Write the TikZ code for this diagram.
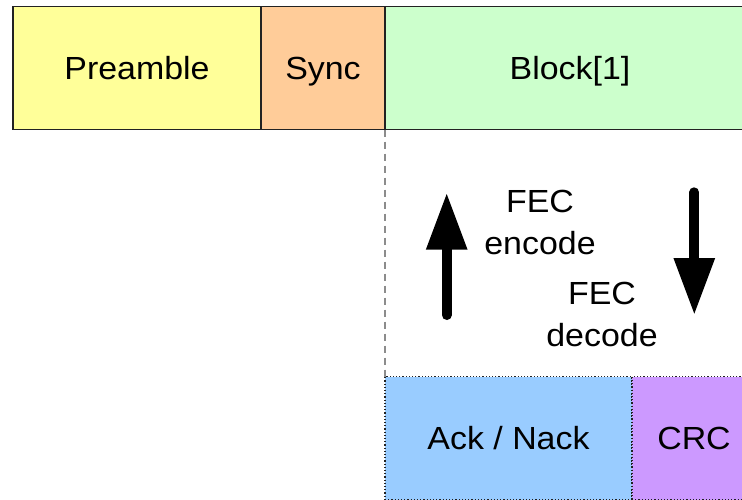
\documentclass[tikz,border=0pt]{standalone}
\usepackage{fontspec}
\setmainfont{Liberation Sans}[FakeStretch=1.06]
\usetikzlibrary{arrows.meta,positioning}
\definecolor{cPre}{HTML}{FFFF99}
\definecolor{cSync}{HTML}{FFCC99}
\definecolor{cBlk}{HTML}{CCFFCC}
\definecolor{cAck}{HTML}{99CCFF}
\definecolor{cCrc}{HTML}{CC99FF}
\definecolor{cInk}{HTML}{222222}
\definecolor{cSep}{HTML}{8C8C8C}
\tikzset{
  field/.style ={draw=cInk,line width=1.2pt,inner sep=0pt,outer sep=0pt,
                 minimum height=123pt,text height=27pt,text depth=4pt,
                 font=\fontsize{32}{38}\selectfont},
  dfield/.style={field,dotted},
  lbl/.style   ={align=center,inner sep=0pt,font=\fontsize{32}{42}\selectfont},
  sep/.style   ={cSep,line width=1.6pt,dash pattern=on 7pt off 5pt},
  fec/.style   ={line width=10pt,line cap=round,
                 -{Triangle[width=38.7pt,length=57pt]}},
}
\begin{document}
\begin{tikzpicture}[x=1pt,y=-1pt,node distance=0pt]
\useasboundingbox (0,0) rectangle (742,499);
\clip (0,0) rectangle (742,499);
% header fields
\node[field,fill=cPre,minimum width=248pt,anchor=north west] (pre) at (13,6.7) {Preamble};
\node[field,fill=cSync,minimum width=124pt,right=of pre] (sync) {Sync};
\node[field,fill=cBlk,minimum width=370pt,right=of sync] (blk) {Block[1]};
% trailer fields
\node[dfield,fill=cAck,minimum width=247pt,anchor=north west] (ack) at (385,376.5) {Ack / Nack};
\node[dfield,fill=cCrc,minimum width=124pt,right=of ack] (crc) {CRC};
\draw[sep] (blk.south west) -- (ack.north west);
% coding arrows
\coordinate (encS) at (446.7,315);
\coordinate (encE) at (446.7,192.7);
\coordinate (decS) at (694.3,192.3);
\coordinate (decE) at (694.3,315);
\draw[fec] (encS) -- (encE);
\draw[fec] (decS) -- (decE);
\node[lbl] (enc) at (540,222) {FEC\\encode};
\node[lbl] (dec) at (602,314) {FEC\\decode};
\end{tikzpicture}
\end{document}
